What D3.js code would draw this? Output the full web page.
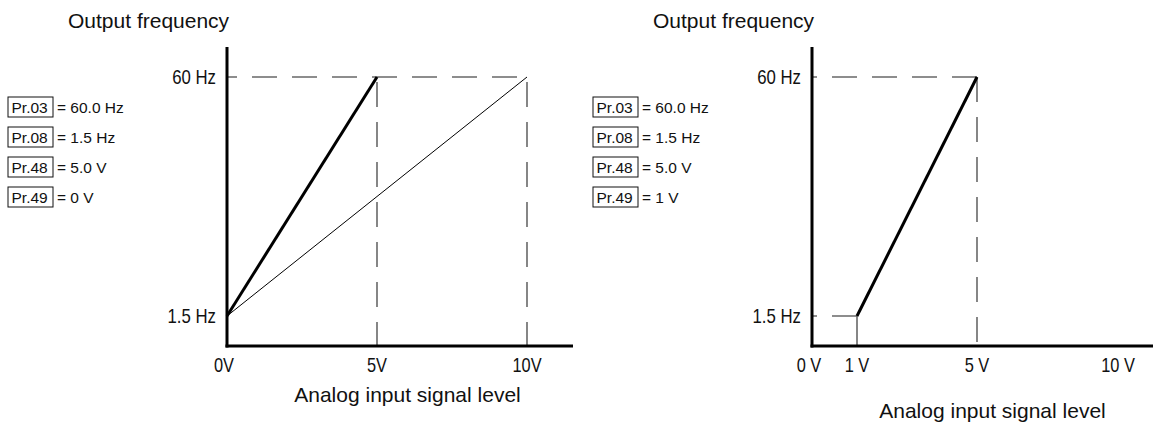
<!DOCTYPE html>
<html>
<head>
<meta charset="utf-8">
<script src="https://cdn.jsdelivr.net/npm/d3@7"></script>
<style>
  html, body { margin: 0; padding: 0; background: #fff; }
  svg { display: block; }
  text { font-family: "Liberation Sans", Arial, "Helvetica", sans-serif; fill: #111; }
</style>
</head>
<body>
<svg id="chart" width="1153" height="423"></svg>
<script>
// Frequency-setting parameters shown beside each graph
const paramCodes = ["Pr.03", "Pr.08", "Pr.48", "Pr.49"];
const leftParamValues = ["= 60.0 Hz", "= 1.5 Hz", "= 5.0 V", "= 0 V"];
const rightParamValues = ["= 60.0 Hz", "= 1.5 Hz", "= 5.0 V", "= 1 V"];

// Output-frequency ticks (Hz)
const freqTicks = [1.5, 60];
const freqTickLabels = ["1.5 Hz", "60 Hz"];

// Analog input ticks (V)
const leftVoltTicks = [0, 5, 10];
const leftVoltLabels = ["0V", "5V", "10V"];
const rightVoltTicks = [0, 1, 5, 10];
const rightVoltLabels = ["0 V", "1 V", "5 V", "10 V"];

// Characteristic curves: [volts, Hz]
const leftBiasCurve = [[0, 1.5], [5, 60]];      // gain at 5 V
const leftDefaultCurve = [[0, 1.5], [10, 60]];  // gain at 10 V
const rightFloor = [[0, 1.5], [1, 1.5]];        // held at start frequency below bias
const rightBiasCurve = [[1, 1.5], [5, 60]];     // bias 1 V, gain 5 V

const axisTitleY = "Output frequency";
const axisTitleX = "Analog input signal level";

const svg = d3.select("#chart");
const DASH = "25,15";
const DASH_COLOR = "#686868";

function drawPanel(cfg) {
  const g = svg.append("g").attr("transform", `translate(${cfg.dx},0)`);
  const x = cfg.x;
  const y = d3.scaleLinear().domain([1.5, 60]).range([316, 77]);
  const axisY = 346;
  const x0 = x(0);

  // Title above the frequency axis
  g.append("text").attr("x", 68).attr("y", 28)
    .attr("font-size", 21).text(axisTitleY);

  // Parameter boxes
  const rows = g.selectAll("g.param").data(paramCodes).join("g")
    .attr("class", "param")
    .attr("transform", (d, i) => `translate(8,${107 + i * 30})`);
  rows.append("rect").attr("x", 0).attr("y", -10).attr("width", 45).attr("height", 20)
    .attr("fill", "none").attr("stroke", "#111").attr("stroke-width", 1);
  rows.append("text").attr("x", 3.5).attr("y", 5.5).attr("font-size", 15.5).text(d => d);
  rows.append("text").attr("x", 49).attr("y", 5.5).attr("font-size", 15.5)
    .text((d, i) => cfg.values[i]);

  const line = d3.line().x(d => x(d[0])).y(d => y(d[1]));

  // Reference dashed guides
  cfg.guides(g, x, y, axisY);

  // Curves
  cfg.curves.forEach(c => {
    g.append("path").datum(c.data).attr("d", line)
      .attr("fill", "none").attr("stroke", c.color || "#000")
      .attr("stroke-width", c.width)
      .attr("stroke-dasharray", c.dash || null)
      .attr("stroke-dashoffset", c.offset || 0);
  });

  // Axes
  g.append("line").attr("x1", x0).attr("x2", x0).attr("y1", 47).attr("y2", axisY + 1.5)
    .attr("stroke", "#000").attr("stroke-width", 3);
  g.append("line").attr("x1", x0 - 1.5).attr("x2", cfg.xEnd).attr("y1", axisY).attr("y2", axisY)
    .attr("stroke", "#000").attr("stroke-width", 3);

  // Frequency tick labels (narrow lettering)
  g.selectAll("g.ytick").data(freqTicks).join("g").attr("class", "ytick")
    .attr("transform", d => `translate(${x0 - 11},${y(d)})`)
    .append("text").attr("text-anchor", "end").attr("dy", "0.36em")
    .attr("font-size", 20).attr("transform", "scale(0.84,1)")
    .text((d, i) => freqTickLabels[i]);

  // Voltage tick labels
  g.selectAll("g.xtick").data(cfg.ticks).join("g").attr("class", "xtick")
    .attr("transform", d => `translate(${x(d) - (d === 0 ? 3 : 0)},372)`)
    .append("text").attr("text-anchor", "middle")
    .attr("font-size", 20).attr("transform", "scale(0.82,1)")
    .text((d, i) => cfg.labels[i]);

  // Input axis title
  g.append("text").attr("x", cfg.xTitleX).attr("y", cfg.xTitleY)
    .attr("text-anchor", "middle").attr("font-size", 21).text(axisTitleX);
}

function dashed(g, x1, y1, x2, y2, offset) {
  g.append("line").attr("x1", x1).attr("y1", y1).attr("x2", x2).attr("y2", y2)
    .attr("stroke", DASH_COLOR).attr("stroke-width", 1.6)
    .attr("stroke-dasharray", DASH).attr("stroke-dashoffset", offset);
}

// Left graph: bias 0 V, gain 5 V vs. default 10 V
drawPanel({
  dx: 0,
  x: d3.scaleLinear().domain([0, 10]).range([227, 527]),
  xEnd: 573,
  ticks: leftVoltTicks,
  labels: leftVoltLabels,
  values: leftParamValues,
  xTitleX: 407.5, xTitleY: 402,
  guides: (g, x, y, axisY) => {
    dashed(g, x(0), y(60), x(10), y(60), 15);
    dashed(g, x(5), y(60), x(5), axisY, 35);
    dashed(g, x(10), y(60), x(10), axisY, 35);
  },
  curves: [
    { data: leftDefaultCurve, width: 1 },
    { data: leftBiasCurve, width: 3 }
  ]
});

// Right graph: bias 1 V, gain 5 V (schematic voltage spacing)
drawPanel({
  dx: 585,
  x: d3.scaleLinear().domain([0, 1, 5, 10]).range([227, 272, 392, 533]),
  xEnd: 568,
  ticks: rightVoltTicks,
  labels: rightVoltLabels,
  values: rightParamValues,
  xTitleX: 407.5, xTitleY: 418,
  guides: (g, x, y, axisY) => {
    dashed(g, x(5), y(60), x(0), y(60), 0);
    dashed(g, x(5), y(60), x(5), axisY, 0);
    g.append("line").attr("x1", x(1)).attr("x2", x(1)).attr("y1", y(1.5)).attr("y2", axisY)
      .attr("stroke", DASH_COLOR).attr("stroke-width", 1.6);
  },
  curves: [
    { data: rightFloor.slice().reverse(), width: 1.6, color: DASH_COLOR, dash: DASH, offset: 0 },
    { data: rightBiasCurve, width: 3 }
  ]
});
</script>
</body>
</html>
